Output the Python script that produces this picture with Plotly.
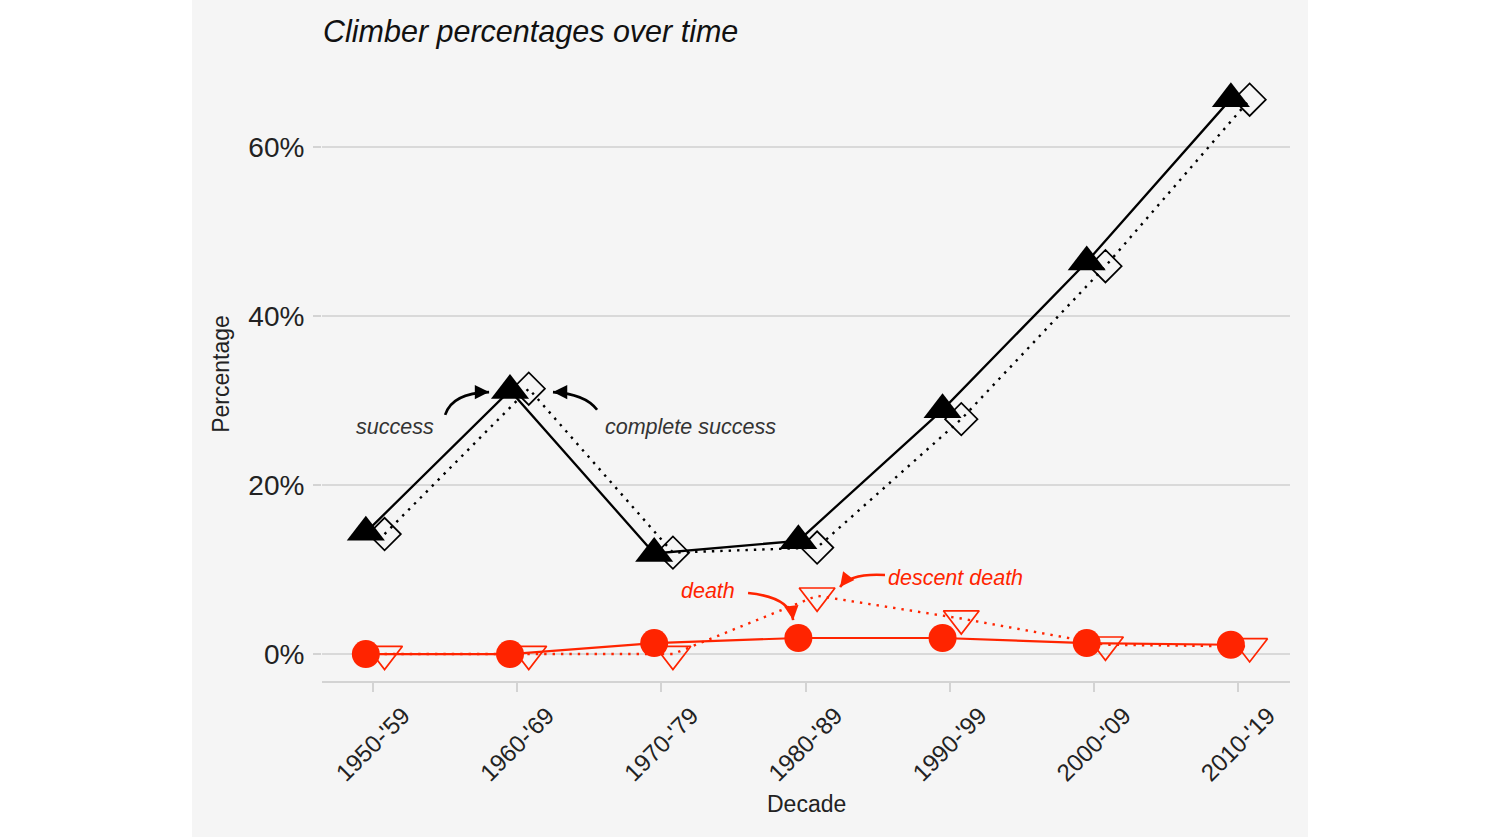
import plotly.graph_objects as go

# ---- data ----
decades = ["1950-'59", "1960-'69", "1970-'79", "1980-'89", "1990-'99", "2000-'09", "2010-'19"]
success = [14.4, 31.2, 11.9, 13.4, 28.9, 46.4, 65.7]
complete_success = [14.2, 31.4, 12.0, 12.6, 27.8, 45.9, 65.6]
death = [0.0, 0.0, 1.3, 1.9, 1.9, 1.3, 1.1]
descent_death = [0.0, 0.0, 0.0, 6.9, 4.2, 1.1, 0.9]
y_ticks = [0, 20, 40, 60]
y_ticklabels = ["0%", "20%", "40%", "60%"]

FONT = "Liberation Sans, Arial, sans-serif"
RED = "#FF2400"
BLACK = "#000000"
TXT = "#333333"
DODGE_L = -0.05
DODGE_R = 0.08

idx = list(range(len(decades)))
x_left = [i + DODGE_L for i in idx]
x_right = [i + DODGE_R for i in idx]

fig = go.Figure()

# open markers first, filled ones on top
fig.add_trace(go.Scatter(
    x=x_right, y=complete_success, mode="lines+markers", name="complete success",
    line=dict(color=BLACK, width=2.4, dash="2.4px,6px"),
    marker=dict(symbol="diamond-open", size=25, color=BLACK, line=dict(width=1.7, color=BLACK)),
))
fig.add_trace(go.Scatter(
    x=x_left, y=success, mode="lines+markers", name="success",
    line=dict(color=BLACK, width=2.3),
    marker=dict(symbol="triangle-up", size=33, color=BLACK),
))
fig.add_trace(go.Scatter(
    x=x_right, y=descent_death, mode="lines+markers", name="descent death",
    line=dict(color=RED, width=2.4, dash="2.4px,6px"),
    marker=dict(symbol="triangle-down-open", size=31, color=RED, line=dict(width=1.7, color=RED)),
))
fig.add_trace(go.Scatter(
    x=x_left, y=death, mode="lines+markers", name="death",
    line=dict(color=RED, width=2.2),
    marker=dict(symbol="circle", size=28, color=RED),
))

# ---- labels with curved arrows ----
labels = [
    # text, x, y, text colour, arrow colour, curve (start, control, end), head tail offset px
    ("success", 0.153, 26.9, TXT, BLACK, (0.50, 28.3), (0.548, 30.9), (0.805, 31.0), (-8, 0)),
    ("complete success", 2.199, 26.9, TXT, BLACK, (1.554, 28.9), (1.471, 30.8), (1.248, 31.0), (8, 0)),
    ("death", 2.324, 7.46, RED, RED, (2.601, 7.22), (2.893, 6.75), (2.914, 4.02), (-1, -8)),
    ("descent death", 4.037, 9.0, RED, RED, (3.551, 9.35), (3.309, 9.59), (3.239, 7.93), (5, -6.5)),
]
for text, tx, ty, tcol, acol, s, c, e, off in labels:
    fig.add_annotation(x=tx, y=ty, xref="x", yref="y", text=f"<i>{text}</i>",
                       showarrow=False, font=dict(family=FONT, size=21.5, color=tcol))
    fig.add_shape(type="path", xref="x", yref="y",
                  path=f"M {s[0]},{s[1]} Q {c[0]},{c[1]} {e[0]},{e[1]}",
                  line=dict(color=acol, width=2.6))
    fig.add_annotation(x=e[0], y=e[1], xref="x", yref="y", text="", showarrow=True,
                       ax=off[0], ay=off[1], axref="pixel", ayref="pixel",
                       arrowhead=2, arrowsize=1.1, arrowwidth=2.6, arrowcolor=acol, standoff=0)

# axis titles
fig.add_annotation(x=0.5, y=-0.2, xref="paper", yref="paper", text="Decade", showarrow=False,
                   font=dict(family=FONT, size=23, color="#222222"), yanchor="middle")
fig.add_annotation(x=-0.105, y=0.5, xref="paper", yref="paper", text="Percentage", showarrow=False,
                   textangle=-90, font=dict(family=FONT, size=23, color="#222222"), xanchor="center")

# gray panel background
fig.add_shape(type="rect", xref="paper", yref="paper", x0=-0.1343, x1=1.0186, y0=-0.4, y1=1.2,
              fillcolor="#F5F5F5", line=dict(width=0), layer="below")

fig.update_layout(
    width=1500, height=837,
    paper_bgcolor="white", plot_bgcolor="#F5F5F5",
    margin=dict(l=314, r=218, t=58, b=164),
    showlegend=False,
    font=dict(family=FONT, color="#222222"),
    title=dict(text="<i>Climber percentages over time</i>", x=315 / 1500, xanchor="left",
               y=1 - 23 / 837, yanchor="middle", font=dict(family=FONT, size=30.5, color="#111111")),
)
fig.update_xaxes(
    range=[-0.354, 6.360], tickmode="array", tickvals=idx, ticktext=decades,
    tickangle=-45, tickfont=dict(family=FONT, size=24, color="#222222"),
    ticklabelshift=30,
    showgrid=False, zeroline=False, showline=True, linecolor="#D3D3D3", linewidth=2,
    ticks="outside", ticklen=9, tickwidth=2, tickcolor="#D3D3D3",
)
fig.update_yaxes(
    range=[-3.19, 69.59], tickmode="array", tickvals=y_ticks, ticktext=y_ticklabels,
    tickfont=dict(family=FONT, size=28, color="#222222"), ticklabelstandoff=3,
    showgrid=True, gridcolor="#D9D9D9", gridwidth=2, zeroline=False, showline=False,
    ticks="outside", ticklen=8, tickwidth=2, tickcolor="#D3D3D3",
)

fig.write_html(
    "out.html",
    post_script=("document.body.style.background='linear-gradient(to right, #FFFFFF 192px, "
                 "#F5F5F5 192px, #F5F5F5 1308px, #FFFFFF 1308px)';"),
)
